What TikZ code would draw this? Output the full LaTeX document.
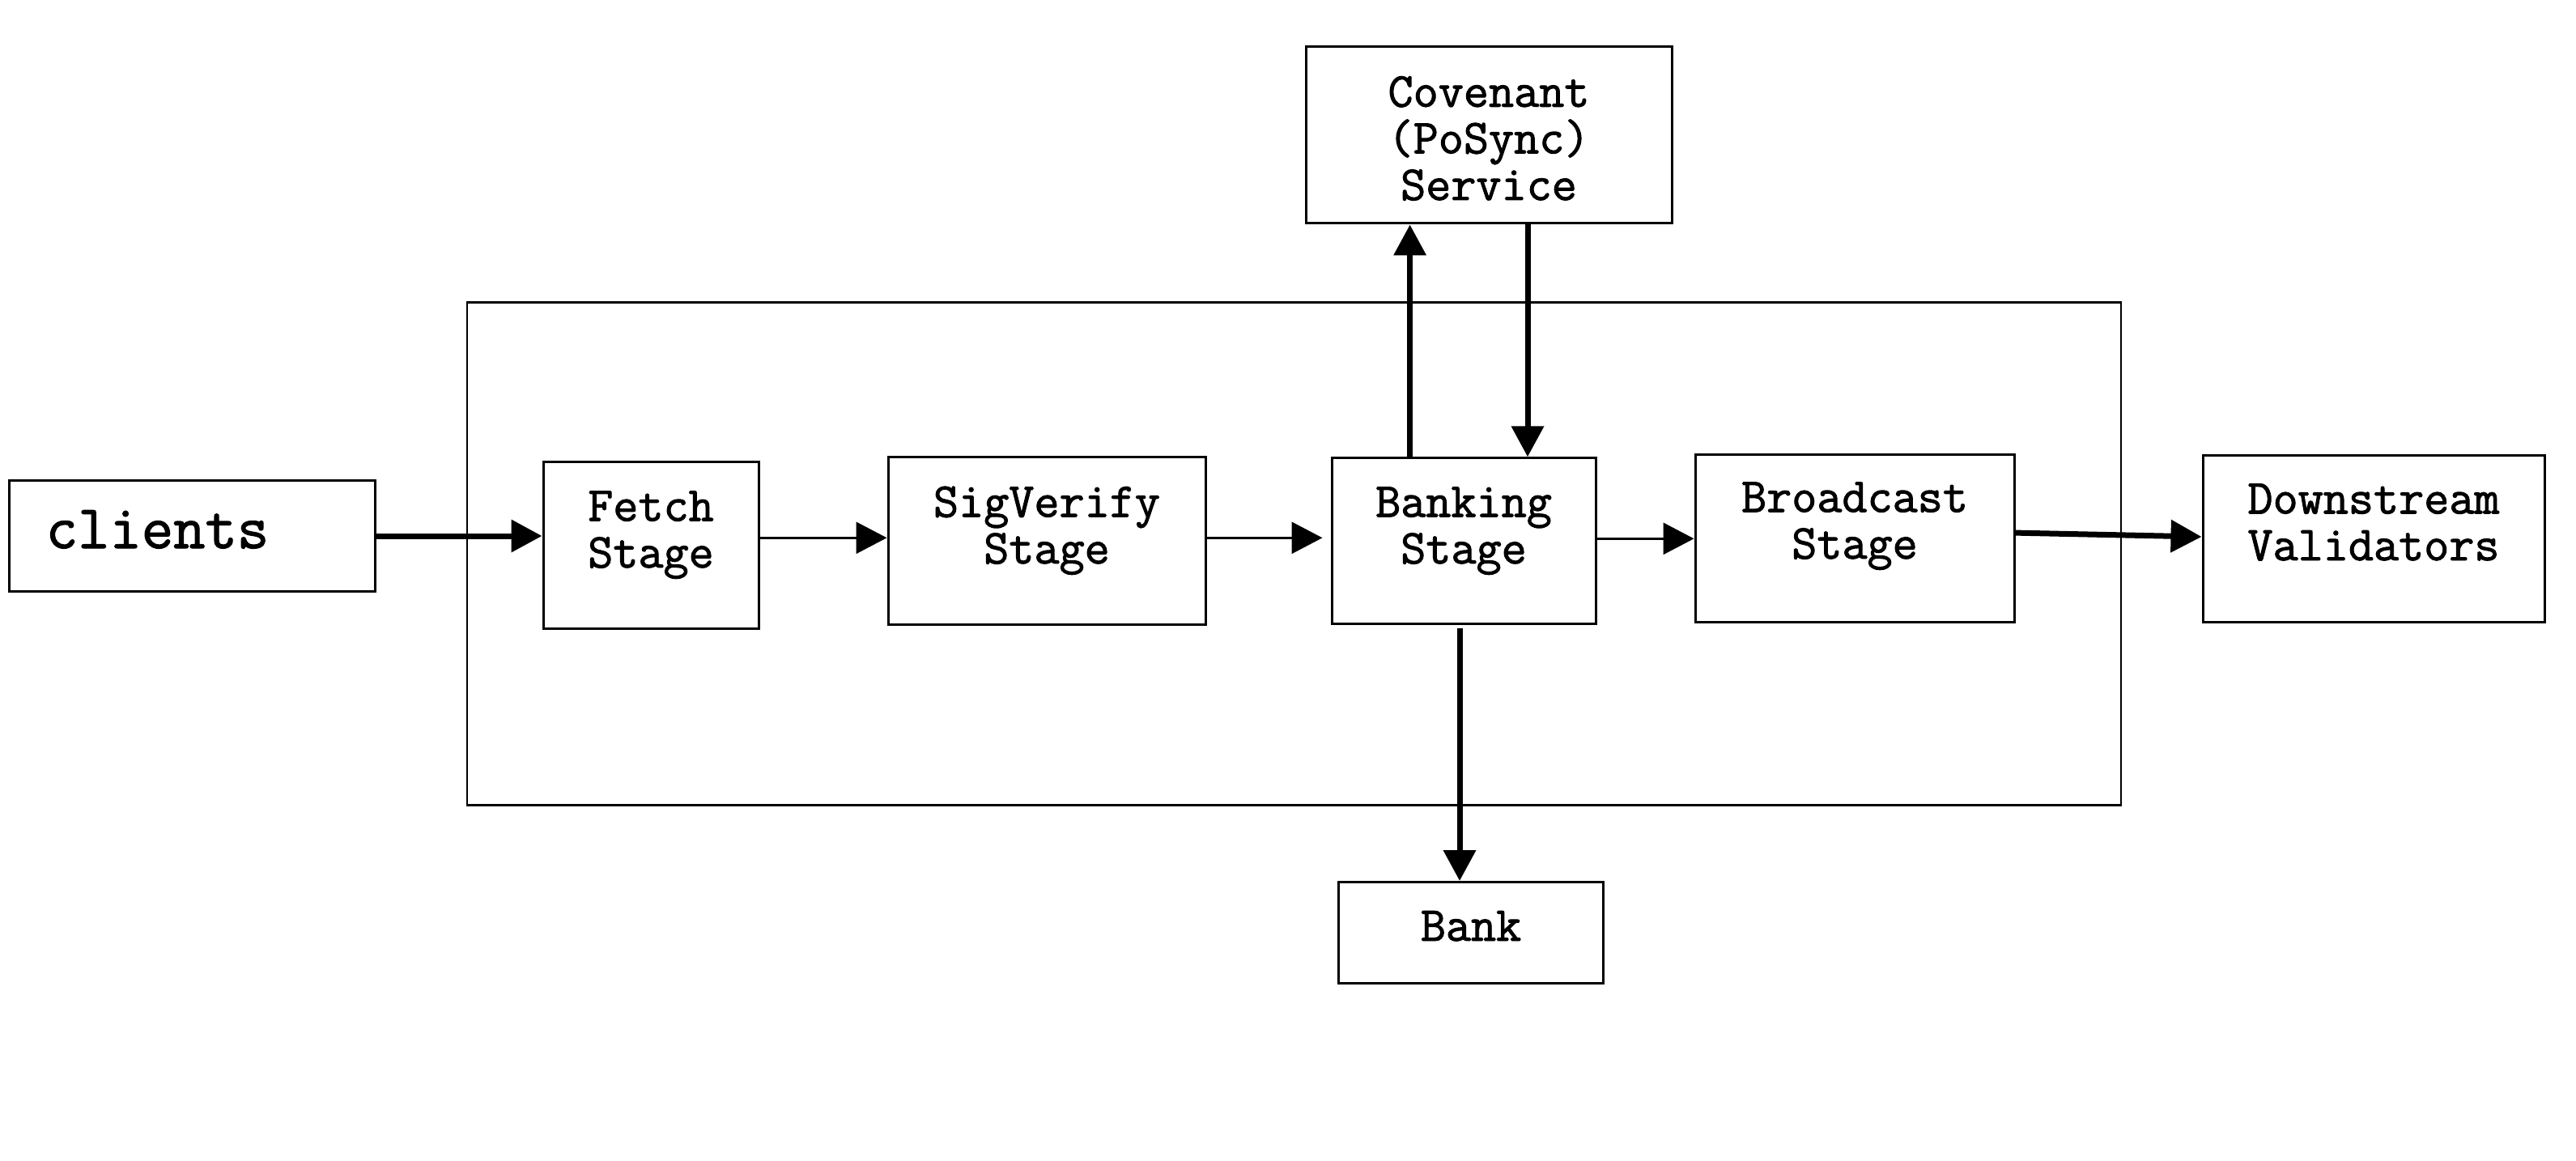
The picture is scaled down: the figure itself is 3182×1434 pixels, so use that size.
\documentclass[tikz,border=0pt]{standalone}
\usepackage{fontspec}
\setmonofont[FakeBold=1.6]{Latin Modern Mono}
\usetikzlibrary{arrows.meta}

\begin{document}
\begin{tikzpicture}
[x=0.25pt, y=-0.25pt,
 blk/.style={draw=black, line width=0.75pt, inner sep=0pt},
 lbl/.style={font=\ttfamily\fontsize{15.1}{14.4}\selectfont, align=center, anchor=base, inner sep=0pt},
 ->/.style={line width=0.75pt, arrows={-Triangle[length=9.5pt, width=9.75pt]}},
 heavy/.style={->, line width=1.75pt}]
\useasboundingbox[fill=white] (0,0) rectangle (3182,1434);
% boxes
\node[blk, line width=0.65pt, minimum width=510.75pt, minimum height=155.3pt] (tpu) at (1598.5,684) {};
\node[blk, minimum width=113pt, minimum height=34.25pt] (clients) at (237,662) {};
\node[blk, minimum width=66.5pt, minimum height=51.5pt] (fetch) at (804,673) {};
\node[blk, minimum width=98pt, minimum height=51.7pt] (sigverify) at (1293,668.3) {};
\node[blk, minimum width=81.5pt, minimum height=51.25pt] (banking) at (1808,668.3) {};
\node[blk, minimum width=98.5pt, minimum height=51.7pt] (broadcast) at (2291,665.3) {};
\node[blk, minimum width=105.5pt, minimum height=51.5pt] (downstream) at (2932,665) {};
\node[blk, minimum width=113pt, minimum height=54.5pt] (covenant) at (1839,167) {};
\node[blk, minimum width=81.75pt, minimum height=31.25pt] (bank) at (1817,1152) {};
% texts (base = last line)
\node[lbl, anchor=base west, font=\ttfamily\fontsize{19.1}{20}\selectfont] (clientslbl) at (56,677) {clients};
\node[lbl] (fetchlbl) at (804,701) {Fetch\\Stage};
\node[lbl] (sigverifylbl) at (1293,696) {SigVerify\\Stage};
\node[lbl] (bankinglbl) at (1808,696) {Banking\\Stage};
\node[lbl] (broadcastlbl) at (2291,690) {Broadcast\\Stage};
\node[lbl] (downstreamlbl) at (2932,692) {Downstream\\Validators};
\node[lbl] (covenantlbl) at (1839,247) {Covenant\\(PoSync)\\Service};
\node[lbl] (banklbl) at (1817,1162) {Bank};
% connectors
\draw[heavy] (clients.east) -- (clients.east -| fetch.west);
\draw[->] ([yshift=1pt]sigverify.west -| fetch.east) -- ([yshift=1pt]sigverify.west);
\draw[->] ([yshift=1pt]sigverify.east) -- ([xshift=-2.5pt,yshift=1pt]sigverify.east -| banking.west);
\draw[->] (banking.east |- broadcast.west) -- (broadcast.west);
\draw[heavy] ([yshift=1.8pt]broadcast.east) -- ([yshift=0.5pt]downstream.west);
\draw[heavy] ([xshift=-16.6pt]banking.north) -- ([xshift=-16.6pt]banking.north |- covenant.south);
\draw[heavy] ([xshift=12pt]covenant.south) -- ([xshift=12pt]covenant.south |- banking.north);
\draw[heavy] ([xshift=-1.25pt,yshift=-1pt]banking.south) -- ([xshift=-1.25pt]banking.south |- bank.north);
\end{tikzpicture}
\end{document}
